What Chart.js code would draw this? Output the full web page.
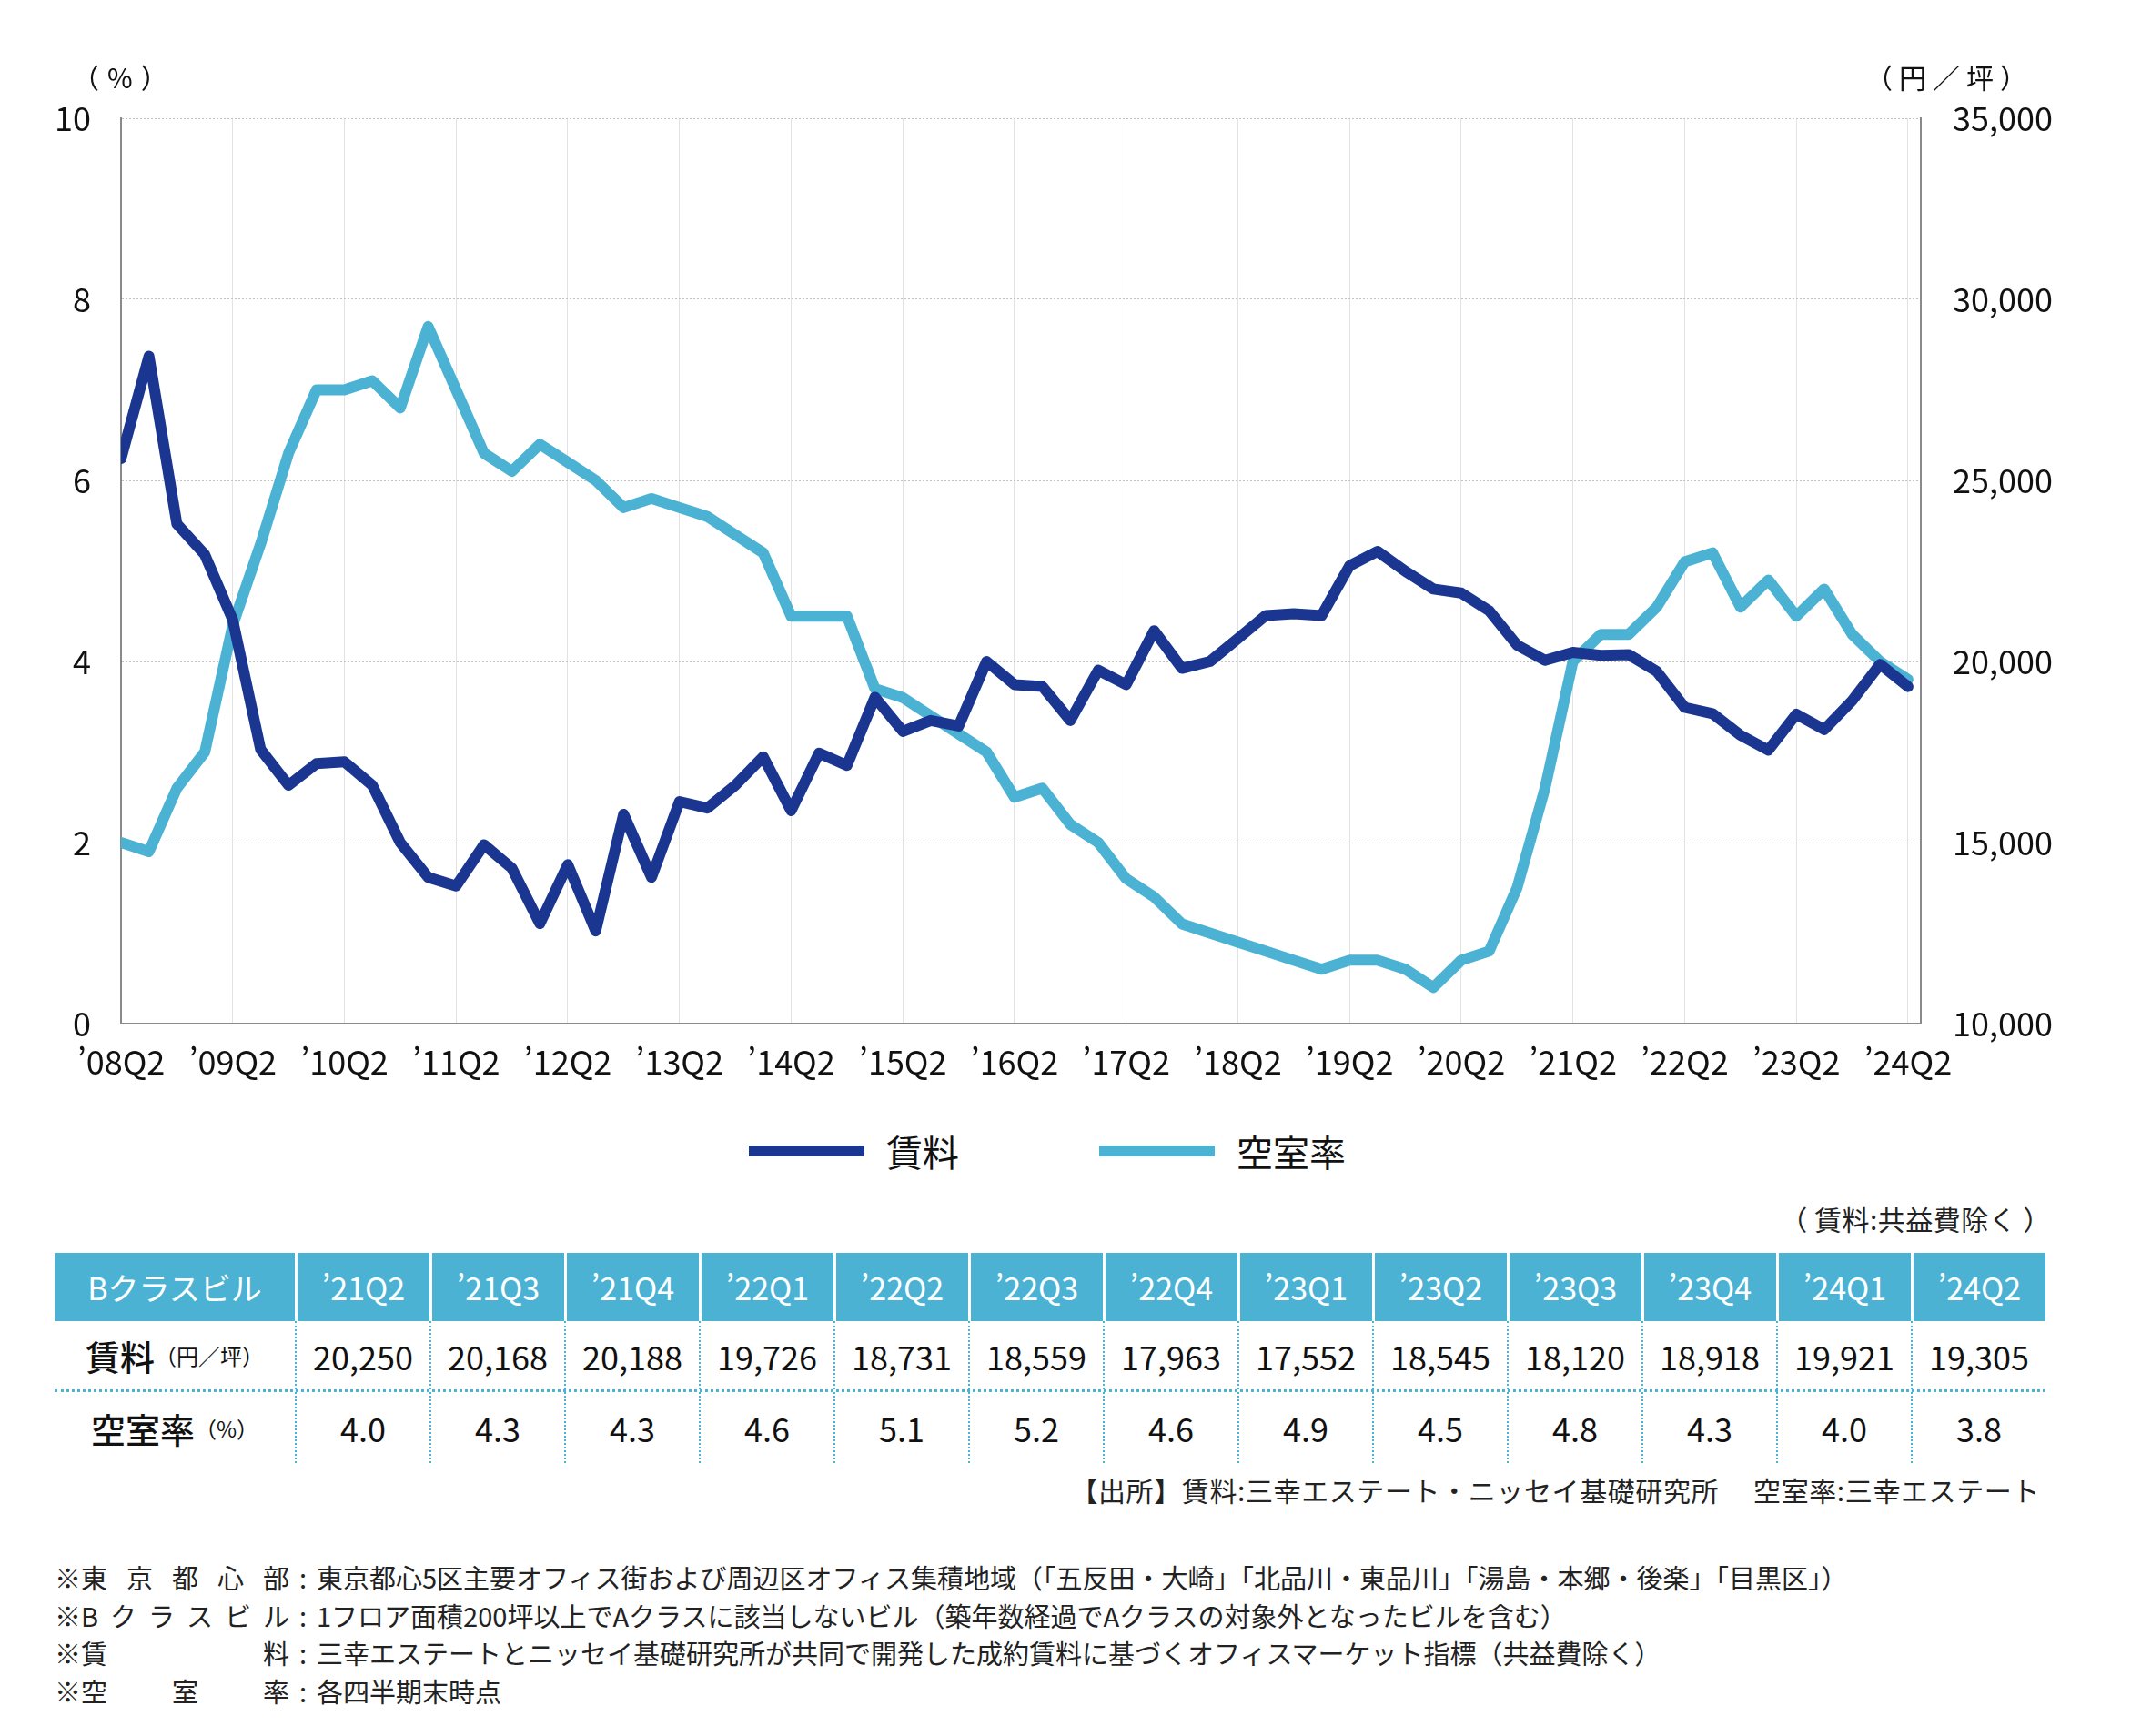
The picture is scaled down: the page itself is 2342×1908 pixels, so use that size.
<!DOCTYPE html>
<html lang="ja">
<head>
<meta charset="utf-8">
<script src="https://cdn.jsdelivr.net/npm/chart.js@4.4.1/dist/chart.umd.min.js"></script>
<style>
	body { margin: 0; background: #fff; font-family: "Noto Sans CJK JP", sans-serif; color: #111; }
	#page { position: relative; width: 2342px; height: 1908px; overflow: hidden; }
	#chartBox { position: absolute; left: 0; top: 0; width: 2342px; height: 1230px; }
	.unit { position: absolute; top: 62px; font-size: 30px; line-height: 44px; }
	.leg { position: absolute; top: 1240px; height: 50px; display: flex; align-items: center; font-size: 40px; }
	.leg span.bar { display: inline-block; width: 127px; height: 12px; margin-right: 24px; }
	#note1 { position: absolute; right: 88px; top: 1317px; font-size: 30px; line-height: 44px; color: #222; letter-spacing: 0.5px; }
	#dataTable { position: absolute; left: 60px; top: 1377px; width: 2188px; }
	.row { display: flex; }
	.cell { width: 148px; box-sizing: border-box; display: flex; align-items: center; justify-content: center; }
	.cell.first { width: 264px; }
	.head { height: 75px; background: #4bb2d4; color: #fff; font-size: 34px; }
	.head .cell + .cell { border-left: 3px solid #fff; }
	.body { font-size: 36px; }
	.body .cell + .cell { border-left: 2px dotted #4bb2d4; }
	.r1 { height: 75px; border-bottom: 3px dotted #4bb2d4; }
	.r2 { height: 78px; }
	.big { font-size: 38px; font-weight: 500; }
	.small { font-size: 24px; margin-left: 0px; }
	#source { position: absolute; right: 100px; top: 1615px; font-size: 30px; line-height: 44px; color: #222; letter-spacing: 0.6px; }
	#notes { position: absolute; left: 60px; top: 1713px; font-size: 29px; line-height: 41.5px; color: #222; }
	.fn { display: flex; white-space: nowrap; }
	.fn .lab { width: 229px; display: flex; justify-content: space-between; }
	.fn .colon { width: 30px; text-align: center; }
</style>
</head>
<body>
<div id="page">
	<div id="chartBox"><canvas id="chart" width="2342" height="1230"></canvas></div>
	<div class="unit" style="left:79px; letter-spacing:9px;">（%）</div>
	<div class="unit" style="left:2050px; letter-spacing:7px;">（円／坪）</div>

	<div class="leg" style="left:823px;"><span class="bar" style="background:#1b3690;"></span>賃料</div>
	<div class="leg" style="left:1208px;"><span class="bar" style="background:#4bb2d4;"></span>空室率</div>

	<div id="note1">（ 賃料:共益費除く ）</div>
	<div id="dataTable"></div>
	<div id="source">【出所】賃料:三幸エステート・ニッセイ基礎研究所　&nbsp;空室率:三幸エステート</div>
	<div id="notes"></div>
</div>
<script>
// quarterly series, '08Q2 .. '24Q2
const rent = [
	25600, 28430, 23800, 22950, 21150, 17570, 16580, 17180, 17230, 16580,
	15000, 14040, 13800, 14940, 14290, 12760, 14390, 12560, 15780, 14040,
	16130, 15950, 16580, 17370, 15880, 17470, 17130, 19010, 18070, 18370,
	18220, 20000, 19360, 19310, 18370, 19760, 19360, 20850, 19810, 20000,
	20630, 21270, 21320, 21270, 22640, 23040, 22490, 22000, 21890, 21400,
	20450, 20030, 20250, 20168, 20188, 19726, 18731, 18559, 17963, 17552,
	18545, 18120, 18918, 19921, 19305
];
const vacancy = [
	2.0, 1.9, 2.6, 3.0, 4.4, 5.3, 6.3, 7.0, 7.0, 7.1,
	6.8, 7.7, 7.0, 6.3, 6.1, 6.4, 6.2, 6.0, 5.7, 5.8,
	5.7, 5.6, 5.4, 5.2, 4.5, 4.5, 4.5, 3.7, 3.6, 3.4,
	3.2, 3.0, 2.5, 2.6, 2.2, 2.0, 1.6, 1.4, 1.1, 1.0,
	0.9, 0.8, 0.7, 0.6, 0.7, 0.7, 0.6, 0.4, 0.7, 0.8,
	1.5, 2.6, 4.0, 4.3, 4.3, 4.6, 5.1, 5.2, 4.6, 4.9,
	4.5, 4.8, 4.3, 4.0, 3.8
];
// one label every 4 quarters
const xTickLabels = ["’08Q2", "’09Q2", "’10Q2", "’11Q2", "’12Q2", "’13Q2", "’14Q2", "’15Q2", "’16Q2",
	"’17Q2", "’18Q2", "’19Q2", "’20Q2", "’21Q2", "’22Q2", "’23Q2", "’24Q2"];
const tableQuarters = ["’21Q2", "’21Q3", "’21Q4", "’22Q1", "’22Q2", "’22Q3", "’22Q4",
	"’23Q1", "’23Q2", "’23Q3", "’23Q4", "’24Q1", "’24Q2"];
const footnotes = [
	["東京都心部", "東京都心5区主要オフィス街および周辺区オフィス集積地域（「五反田・大崎」「北品川・東品川」「湯島・本郷・後楽」「目黒区」）"],
	["Bクラスビル", "1フロア面積200坪以上でAクラスに該当しないビル（築年数経過でAクラスの対象外となったビルを含む）"],
	["賃料", "三幸エステートとニッセイ基礎研究所が共同で開発した成約賃料に基づくオフィスマーケット指標（共益費除く）"],
	["空室率", "各四半期末時点"]
];

const DARK = "#1b3690";
const LIGHT = "#4bb2d4";
const tickFont = { family: "'Noto Sans CJK JP', sans-serif", size: 36 };

let rentPoints = [];
let vacPoints = [];
for (let i = 0; i < rent.length; i++) {
	rentPoints.push({ x: i, y: rent[i] });
	vacPoints.push({ x: i, y: vacancy[i] });
}

new Chart(document.getElementById("chart").getContext("2d"), {
	type: "line",
	data: {
		datasets: [
			{
				label: "賃料", data: rentPoints, yAxisID: "y2",
				borderColor: DARK, borderWidth: 12, pointRadius: 0, tension: 0,
				borderJoinStyle: "round", borderCapStyle: "round",
				clip: { left: 0, top: 10, right: 10, bottom: 10 }
			},
			{
				label: "空室率", data: vacPoints, yAxisID: "y",
				borderColor: LIGHT, borderWidth: 12, pointRadius: 0, tension: 0,
				borderJoinStyle: "round", borderCapStyle: "round",
				clip: { left: 0, top: 10, right: 10, bottom: 10 }
			}
		]
	},
	options: {
		responsive: false,
		animation: false,
		layout: { padding: { top: 130, left: 0, right: 0, bottom: 0 } },
		plugins: { legend: { display: false }, tooltip: { enabled: false } },
		scales: {
			x: {
				type: "linear", min: 0, max: 64.46,
				afterBuildTicks: (scale) => { scale.ticks = xTickLabels.map((t, k) => ({ value: k * 4 })); },
				afterFit: (scale) => { scale.height = 105; },
				grid: { color: "#e3e3e3", lineWidth: 1, drawTicks: false },
				border: { display: true, color: "#8a8a8a", width: 2 },
				ticks: {
					font: tickFont, color: "#111", padding: 21, maxRotation: 0, autoSkip: false,
					callback: (v) => xTickLabels[v / 4]
				}
			},
			y: {
				position: "left", min: 0, max: 10,
				afterFit: (scale) => { scale.width = 133; },
				grid: { color: "#c2c2c2", lineWidth: 1, drawTicks: false },
				border: { display: true, color: "#8a8a8a", width: 2, dash: [2, 2] },
				ticks: { stepSize: 2, font: tickFont, color: "#111", padding: 33 }
			},
			y2: {
				position: "right", min: 10000, max: 35000,
				afterFit: (scale) => { scale.width = 231; },
				grid: { display: false, drawTicks: false },
				border: { display: true, color: "#8a8a8a", width: 2 },
				ticks: {
					stepSize: 5000, font: tickFont, color: "#111", padding: 35,
					callback: (v) => v.toLocaleString("en-US")
				}
			}
		}
	}
});

// table under the chart, last 13 quarters
let off = rent.length - tableQuarters.length;
let html = '<div class="row head"><div class="cell first">Bクラスビル</div>';
for (let q of tableQuarters)
	html += '<div class="cell">' + q + '</div>';
html += '</div><div class="row body r1"><div class="cell first"><span class="big">賃料</span><span class="small">（円／坪）</span></div>';
for (let k = 0; k < tableQuarters.length; k++)
	html += '<div class="cell">' + rent[off + k].toLocaleString("en-US") + '</div>';
html += '</div><div class="row body r2"><div class="cell first"><span class="big">空室率</span><span class="small">（%）</span></div>';
for (let k = 0; k < tableQuarters.length; k++)
	html += '<div class="cell">' + vacancy[off + k].toFixed(1) + '</div>';
html += '</div>';
document.getElementById("dataTable").innerHTML = html;

let notes = "";
for (let f of footnotes) {
	let lab = "";
	for (let ch of f[0]) lab += "<span>" + ch + "</span>";
	notes += '<div class="fn"><span>※</span><span class="lab">' + lab + '</span><span class="colon">:</span><span>' + f[1] + '</span></div>';
}
document.getElementById("notes").innerHTML = notes;
</script>
</body>
</html>
